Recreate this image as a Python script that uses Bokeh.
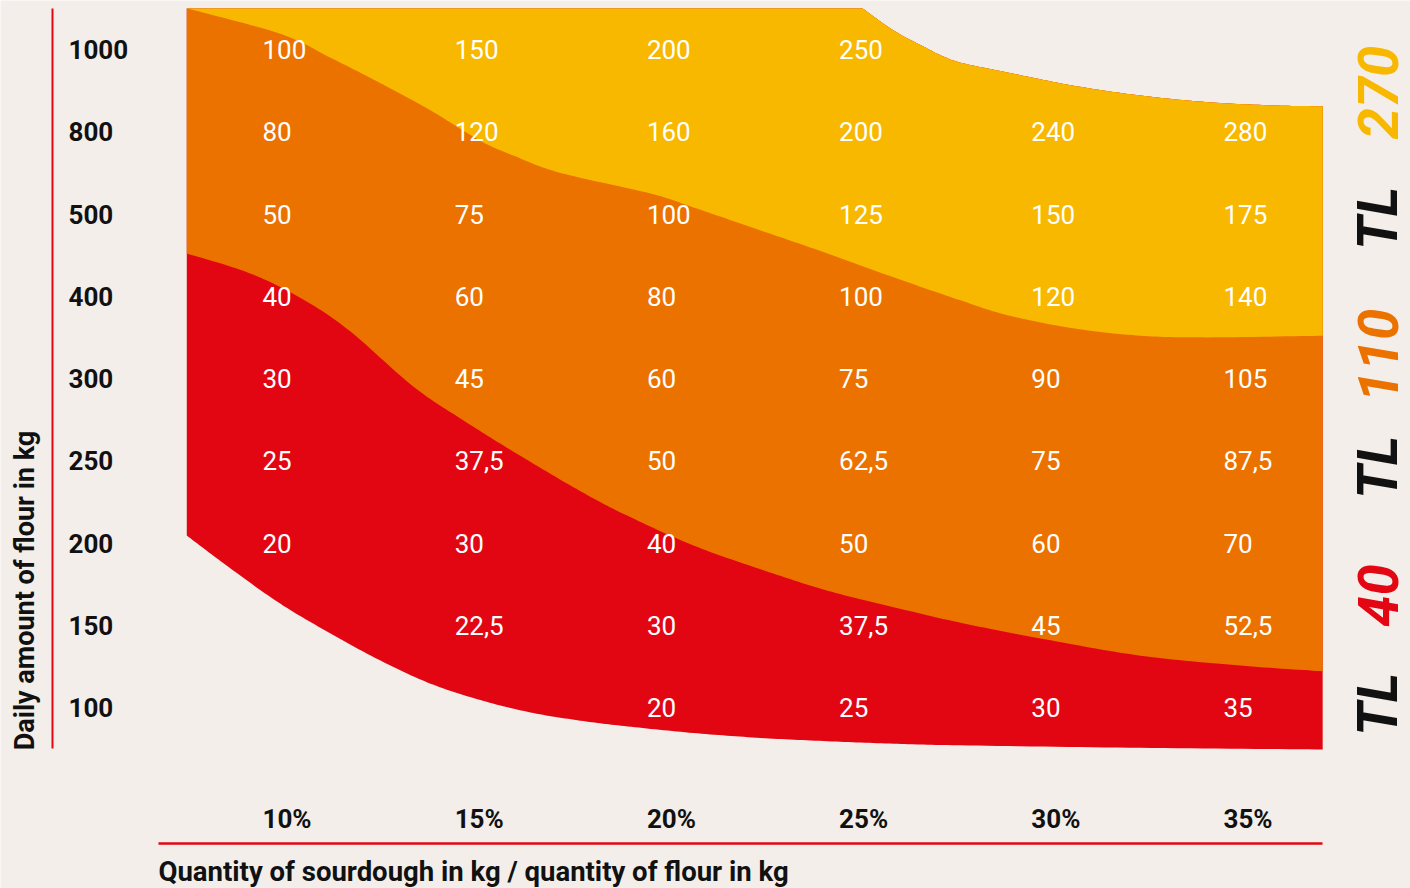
import math
from bokeh.plotting import figure
from bokeh.models import Range1d
from bokeh.core.properties import value
from bokeh.embed import file_html
from bokeh.resources import INLINE

# ---------------- data ----------------
row_labels = ["1000", "800", "500", "400", "300", "250", "200", "150", "100"]
col_labels = ["10%", "15%", "20%", "25%", "30%", "35%"]
col_pct = [10, 15, 20, 25, 30, 35]

cell_values = [
    ["100", "150", "200", "250", "", ""],
    ["80", "120", "160", "200", "240", "280"],
    ["50", "75", "100", "125", "150", "175"],
    ["40", "60", "80", "100", "120", "140"],
    ["30", "45", "60", "75", "90", "105"],
    ["25", "37,5", "50", "62,5", "75", "87,5"],
    ["20", "30", "40", "50", "60", "70"],
    ["", "22,5", "30", "37,5", "45", "52,5"],
    ["", "", "20", "25", "30", "35"],
]

# band boundaries: x in %, y in row units
# (0 = 100 kg row, 8 = 1000 kg row)
top_x = [25.61, 26.42, 27.30, 27.64, 28.16, 29.38, 31.10, 32.84, 34.58, 36.30, 37.58]
top_y = [8.50, 8.23, 8.01, 7.93, 7.84, 7.72, 7.56, 7.44, 7.36, 7.32, 7.31]

yo_x = [8.03, 10.47, 11.77, 13.07, 14.37, 15.67, 16.53, 17.75, 20.09, 21.21,
        22.96, 24.70, 26.42, 28.16, 29.38, 31.10, 32.84, 34.58, 37.58]
yo_y = [8.50, 8.19, 7.90, 7.59, 7.26, 6.89, 6.71, 6.50, 6.25, 6.08,
        5.80, 5.52, 5.23, 4.95, 4.77, 4.61, 4.52, 4.50, 4.52]

or_x = [8.03, 9.61, 10.91, 12.21, 13.93, 15.23, 16.53, 18.27, 19.50, 21.21,
        22.96, 24.70, 26.42, 28.16, 30.24, 32.84, 35.44, 37.58]
or_y = [5.52, 5.29, 5.00, 4.60, 3.90, 3.49, 3.11, 2.63, 2.33, 1.97,
        1.68, 1.42, 1.22, 1.03, 0.84, 0.63, 0.51, 0.44]

bot_x = [8.03, 9.17, 10.47, 11.77, 13.07, 14.37, 15.67, 16.97, 18.27, 19.50, 21.21,
         22.96, 24.70, 26.42, 28.16, 32.84, 37.58]
bot_y = [2.09, 1.69, 1.26, 0.90, 0.57, 0.29, 0.09, -0.06, -0.16, -0.23, -0.31,
         -0.37, -0.41, -0.44, -0.46, -0.49, -0.51]

brand_parts = ["TL", "40", "TL", "110", "TL", "270"]
brand_colors = ["#111111", "#e30613", "#111111", "#ec7200", "#111111", "#f9b800"]

x_title = "Quantity of sourdough in kg / quantity of flour in kg"
y_title = "Daily amount of flour in kg"

# ---------------- layout / style ----------------
W, H = 1410, 888
PX_PER_PCT = 38.44
PX_PER_ROW = 82.25
X0_PX, Y0_PX = 262, 707  # pixel of (10 %, row 0)
LEFT_EDGE = 8.03
TOP_EDGE = 8.5


def xd(px):
    return 10 + (px - X0_PX) / PX_PER_PCT


def yd(py):
    return (Y0_PX - py) / PX_PER_ROW


def smooth(xs, ys, n=16):
    """Catmull-Rom curve through the given points (drawing only)."""
    px = [xs[0]] + list(xs) + [xs[-1]]
    py = [ys[0]] + list(ys) + [ys[-1]]
    ox, oy = [], []
    for i in range(1, len(px) - 2):
        for k in range(n):
            t = k / n
            t2, t3 = t * t, t * t * t

            def cr(a, b, c, d):
                return 0.5 * (2 * b + (-a + c) * t + (2 * a - 5 * b + 4 * c - d) * t2
                              + (-a + 3 * b - 3 * c + d) * t3)
            ox.append(cr(px[i - 1], px[i], px[i + 1], px[i + 2]))
            oy.append(cr(py[i - 1], py[i], py[i + 1], py[i + 2]))
    ox.append(xs[-1])
    oy.append(ys[-1])
    return ox, oy


BG = "#f3eee9"
YELLOW = "#f9b800"
ORANGE = "#ec7200"
RED = "#e20613"
LINE_RED = "#e30613"

p = figure(width=W, height=H, output_backend="svg", toolbar_location=None,
           x_range=Range1d(xd(0), xd(W)), y_range=Range1d(yd(H), yd(0)),
           x_axis_location=None, y_axis_location=None, min_border=0)
p.background_fill_color = BG
p.border_fill_color = BG
p.outline_line_color = None
p.xgrid.visible = False
p.ygrid.visible = False

tsx, tsy = smooth(top_x, top_y)
tsx = [LEFT_EDGE] + tsx
tsy = [TOP_EDGE] + tsy
ysx, ysy = smooth(yo_x, yo_y)
osx, osy = smooth(or_x, or_y)
bsx, bsy = smooth(bot_x, bot_y)

# bands (layered: red under orange under yellow)
p.patch(tsx + bsx[::-1], tsy + bsy[::-1], fill_color=RED, line_color=None)
p.patch(tsx + osx[::-1], tsy + osy[::-1], fill_color=ORANGE, line_color=None)
p.patch(tsx + ysx[::-1], tsy + ysy[::-1], fill_color=YELLOW, line_color=None)

# cell values
n_rows = len(row_labels)
cx, cy, ct = [], [], []
for r, row in enumerate(cell_values):
    for c, v in enumerate(row):
        if v:
            cx.append(col_pct[c])
            cy.append(n_rows - 1 - r)
            ct.append(v)
p.text(cx, cy, text=ct, text_color="white", text_font=value("Roboto"),
       text_font_size="26px", text_align="left", text_baseline="middle")

# y tick labels
p.text([xd(68)] * n_rows, [n_rows - 1 - r for r in range(n_rows)], text=row_labels,
       text_color="#111111", text_font=value("Roboto"), text_font_style="bold",
       text_font_size="26px", text_align="left", text_baseline="middle")

# x tick labels
p.text(col_pct, [yd(818)] * len(col_pct), text=col_labels,
       text_color="#111111", text_font=value("Roboto"), text_font_style="bold",
       text_font_size="26px", text_align="left", text_baseline="middle")

# axis lines
p.line([xd(52), xd(52)], [yd(8), yd(748)], line_color=LINE_RED, line_width=2)
p.line([xd(158), xd(1322)], [yd(843), yd(843)], line_color=LINE_RED, line_width=2.5)

# axis titles
p.text([xd(158)], [yd(871)], text=[x_title], text_color="#111111",
       text_font=value("Roboto"), text_font_style="bold", text_font_size="27.5px",
       text_align="left", text_baseline="middle")
p.text([xd(24)], [yd(590)], text=[y_title], text_color="#111111",
       text_font=value("Roboto"), text_font_style="bold", text_font_size="27px",
       text_align="center", text_baseline="middle", angle=math.pi / 2)

# brand
brand_py = [704, 595, 467, 355, 218, 92]
p.text([xd(1377)] * len(brand_parts), [yd(v) for v in brand_py], text=brand_parts,
       text_color=brand_colors, text_font=value("Roboto"),
       text_font_style="bold italic",
       text_font_size="56px", text_align="center", text_baseline="middle",
       angle=math.pi / 2)

open("out.html", "w").write(file_html(p, INLINE))
